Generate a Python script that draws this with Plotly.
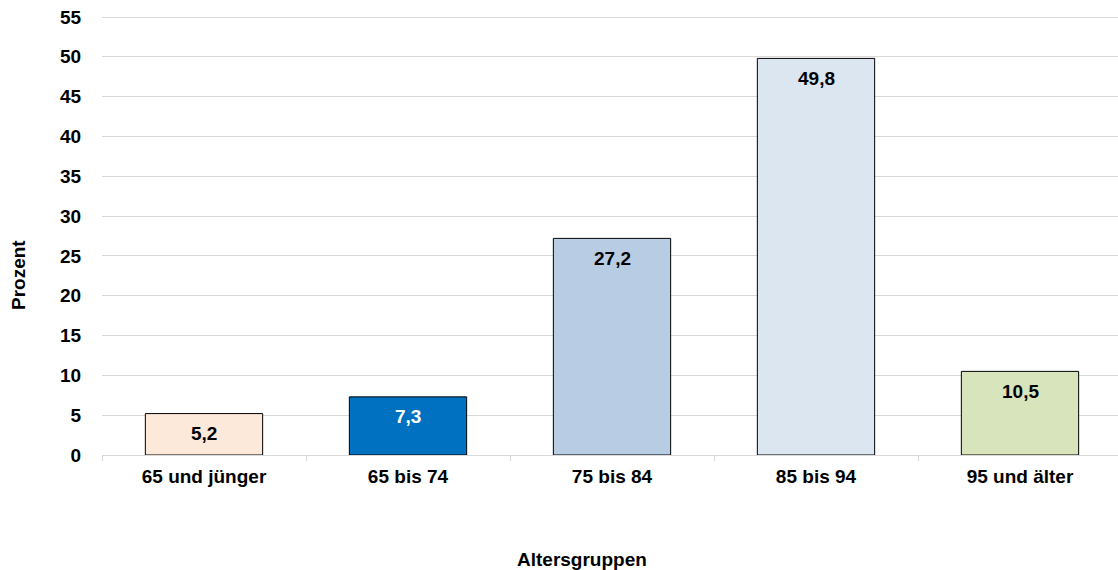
import plotly.graph_objects as go

categories = ["65 und jünger", "65 bis 74", "75 bis 84", "85 bis 94", "95 und älter"]
values = [5.2, 7.3, 27.2, 49.8, 10.5]
value_labels = ["5,2", "7,3", "27,2", "49,8", "10,5"]
bar_colors = ["#FDE9D9", "#0070C0", "#B8CCE4", "#DCE6F1", "#D8E4BC"]
label_colors = ["#000000", "#FFFFFF", "#000000", "#000000", "#000000"]
y_ticks = list(range(0, 60, 5))

FONT = "Liberation Sans, Arial, sans-serif"
FS = 19

PX_PER_UNIT = (455 - 17) / 55.0
W, H = 1118, 570
L, R, T, B = 102, 0, 4, H - 455
pw, ph = W - L - R, H - T - B
YTOP = ph / PX_PER_UNIT

fig = go.Figure()
fig.add_trace(go.Bar(
    x=categories, y=values,
    marker=dict(color=bar_colors, line=dict(color="#000000", width=1)),
    width=0.575,
    hoverinfo="skip",
))

for c, v, t, col in zip(categories, values, value_labels, label_colors):
    fig.add_annotation(x=c, y=v, text=t, showarrow=False, yshift=-20,
                       yanchor="middle",
                       font=dict(family=FONT, size=FS, color=col, weight="bold"))


def px_to_paper(xs, ys):
    return (xs - L) / pw, (H - B - ys) / ph


px, py = px_to_paper(18, 275)
fig.add_annotation(x=px, y=py, xref="paper", yref="paper", text="Prozent",
                   textangle=-90, showarrow=False, xanchor="center", yanchor="middle",
                   font=dict(family=FONT, size=FS, color="#000", weight="bold"))
px, py = px_to_paper(582, 559)
fig.add_annotation(x=px, y=py, xref="paper", yref="paper", text="Altersgruppen",
                   showarrow=False, xanchor="center", yanchor="middle",
                   font=dict(family=FONT, size=FS, color="#000", weight="bold"))

fig.update_layout(
    width=W, height=H,
    margin=dict(l=L, r=R, t=T, b=B, autoexpand=False),
    plot_bgcolor="white", paper_bgcolor="white",
    showlegend=False,
    xaxis=dict(
        range=[-0.5, -0.5 + pw / 204.0],
        showline=True, linecolor="#d9d9d9", linewidth=1,
        ticks="outside", tickcolor="#d9d9d9", ticklen=5, tickson="boundaries",
        ticklabelstandoff=4,
        tickfont=dict(family=FONT, size=FS, color="#000", weight="bold"),
        showgrid=False, fixedrange=True,
    ),
    yaxis=dict(
        range=[0, YTOP], tickvals=y_ticks,
        showgrid=True, gridcolor="#d9d9d9", gridwidth=1,
        zeroline=False, showline=False,
        ticks="outside", ticklen=0, ticklabelstandoff=16,
        tickfont=dict(family=FONT, size=FS, color="#000", weight="bold"),
        fixedrange=True,
    ),
)

fig.write_html(
    "out.html",
    config={"displayModeBar": False, "staticPlot": True},
    post_script="document.body.style.margin='0';document.body.style.overflow='hidden';",
)
